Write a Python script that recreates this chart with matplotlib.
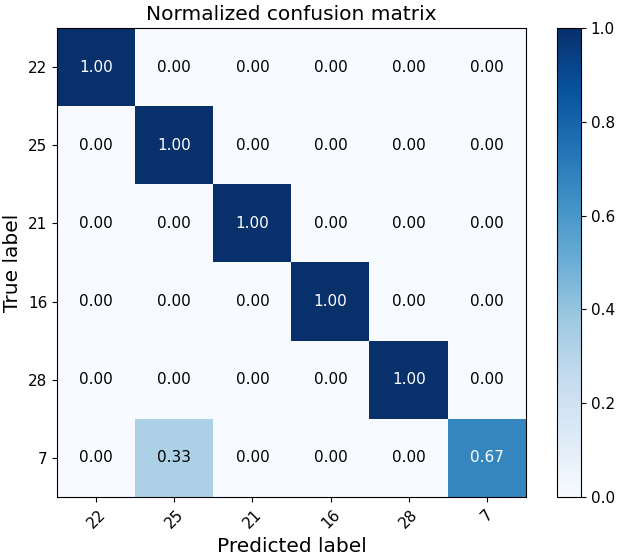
import numpy as np
import matplotlib.pyplot as plt

classes = ['22', '25', '21', '16', '28', '7']
cm = np.array([
    [1.00, 0.00, 0.00, 0.00, 0.00, 0.00],
    [0.00, 1.00, 0.00, 0.00, 0.00, 0.00],
    [0.00, 0.00, 1.00, 0.00, 0.00, 0.00],
    [0.00, 0.00, 0.00, 1.00, 0.00, 0.00],
    [0.00, 0.00, 0.00, 0.00, 1.00, 0.00],
    [0.00, 0.33, 0.00, 0.00, 0.00, 0.67],
])

fig = plt.figure(figsize=(6.18, 5.58), dpi=100)
ax = fig.add_axes([57/618, 61/558, 469/618, 469/558])
cax = fig.add_axes([557/618, 61/558, 24/618, 469/558])

im = ax.imshow(cm, interpolation='nearest', cmap=plt.cm.Blues, vmin=0, vmax=1, aspect='auto')
cb = fig.colorbar(im, cax=cax)
cb.ax.tick_params(labelsize=11)

ax.set_title('Normalized confusion matrix', fontsize=14.5)
ticks = np.arange(len(classes))
ax.set_xticks(ticks)
ax.set_xticklabels(classes, rotation=45, fontsize=11)
ax.set_yticks(ticks)
ax.set_yticklabels(classes, fontsize=11)

thresh = cm.max() / 2.
for i in range(cm.shape[0]):
    for j in range(cm.shape[1]):
        ax.text(j, i, format(cm[i, j], '.2f'), ha='center', va='center', fontsize=11,
                color='white' if cm[i, j] > thresh else 'black')

ax.set_ylabel('True label', fontsize=14.5)
ax.set_xlabel('Predicted label', fontsize=14.5)

fig.savefig('out.png', dpi=100)
